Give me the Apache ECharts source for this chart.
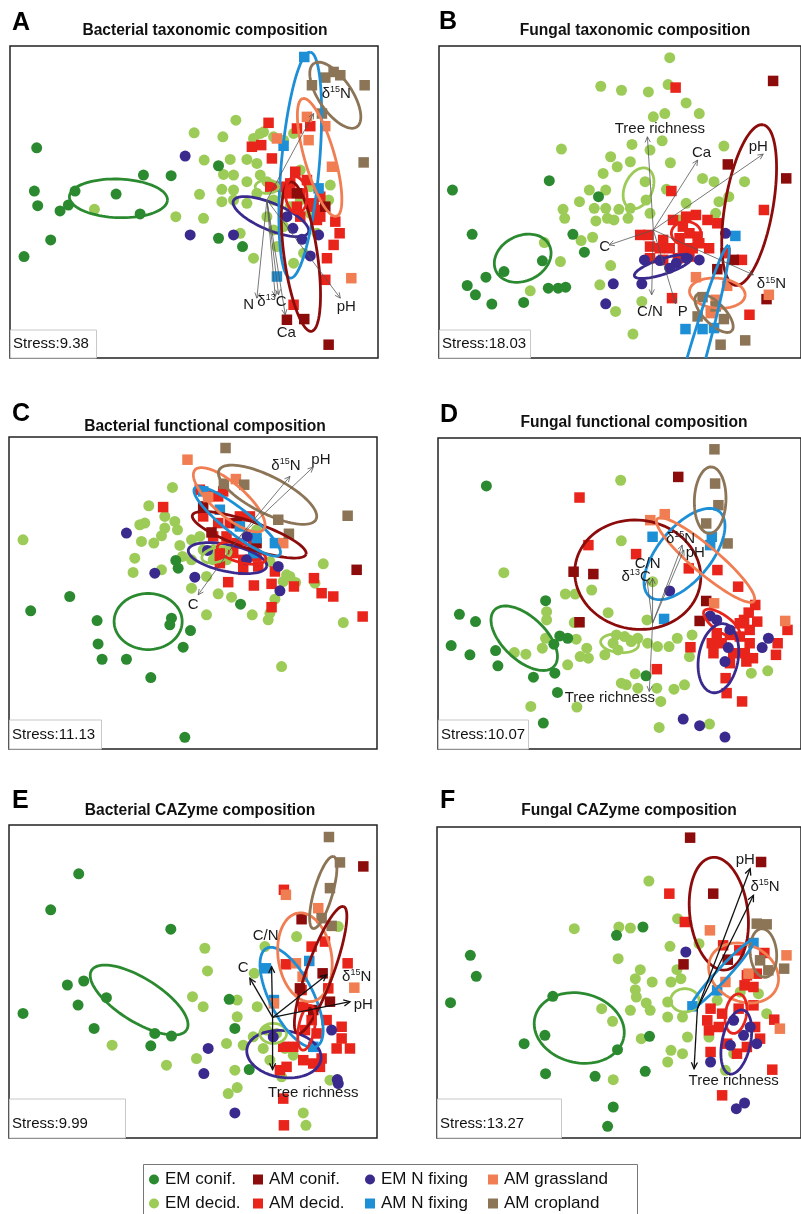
<!DOCTYPE html>
<html>
<head>
<meta charset="utf-8">
<script src="https://cdn.jsdelivr.net/npm/echarts@6/dist/echarts.min.js"></script>
<style>html,body{margin:0;padding:0;background:#fff;}#chart{width:801px;height:1214px;}</style>
</head>
<body>
<div id="chart"></div>
<script>
// ---------------- categories ----------------
const groupNames = ['EM conif.', 'EM decid.', 'AM conif.', 'AM decid.', 'EM N fixing', 'AM N fixing', 'AM grassland', 'AM cropland'];
const panelTitles = ['Bacterial taxonomic composition', 'Fungal taxonomic composition', 'Bacterial functional composition', 'Fungal functional composition', 'Bacterial CAZyme composition', 'Fungal CAZyme composition'];
const panelLetters = ['A', 'B', 'C', 'D', 'E', 'F'];
const stressValues = ['9.38', '18.03', '11.13', '10.07', '9.99', '13.27'];

// ---------------- Panel A ----------------
const aEmConif = [[8.0,63.2],[7.3,50.2],[8.3,45.8],[15.0,44.2],[17.5,46.0],[19.5,50.2],[12.2,35.5],[4.2,30.5],[31.8,49.3],[40.0,55.0],[48.3,54.8],[39.0,43.3],[62.5,57.8],[62.5,36.0],[69.7,33.5]];
const aEmDecid = [[25.3,44.7],[49.7,42.5],[56.8,49.2],[58.0,42.0],[55.2,67.7],[63.8,66.5],[67.7,71.5],[58.2,59.5],[66.0,59.7],[71.0,59.7],[74.0,58.5],[75.0,67.5],[73.0,66.0],[76.0,68.0],[79.0,66.5],[64.0,55.2],[67.0,55.0],[63.5,50.7],[67.0,50.5],[71.0,53.0],[75.0,55.0],[77.0,53.0],[63.5,47.0],[67.0,47.5],[71.0,46.5],[74.0,49.5],[79.0,47.5],[82.0,49.5],[77.0,42.5],[79.0,38.5],[82.0,39.5],[69.0,37.5],[73.0,30.0],[80.0,33.5],[84.0,45.5],[87.0,47.5],[90.0,51.5],[96.0,52.0],[95.5,47.5],[90.0,43.5],[92.0,37.5],[88.0,31.5],[85.0,28.5],[82.0,65.5],[85.0,67.5],[87.0,56.5]];
const aAmConif = [[86.0,49.5],[83.0,11.5],[88.2,11.7],[95.5,4.0],[94.5,45.5]];
const aAmDecid = [[77.5,70.7],[86.0,69.0],[90.0,69.7],[72.5,63.5],[75.3,64.0],[78.5,60.0],[85.5,56.0],[84.0,52.5],[89.0,53.5],[83.0,49.5],[87.0,49.5],[81.0,51.5],[78.0,51.5],[90.0,46.5],[93.0,48.5],[93.0,42.5],[97.5,41.0],[98.8,37.5],[97.0,34.0],[95.0,30.0],[94.5,23.5],[85.0,16.0],[86.0,45.5],[91.0,45.5],[92.0,41.5],[87.0,42.5],[92.5,44.5]];
const aEmNfix = [[52.5,60.7],[54.0,37.0],[67.0,37.0],[84.8,39.0],[87.5,35.7],[92.5,37.0],[90.0,30.7],[83.0,42.5]];
const aAmNfix = [[88.2,90.5],[82.0,63.8],[92.5,51.0],[80.0,24.5]];
const aAmGrass = [[89.0,72.5],[94.5,69.7],[89.5,65.5],[96.5,57.5],[102.3,24.0],[80.0,66.0]];
const aAmCrop = [[90.5,82.0],[94.5,84.3],[97.0,86.0],[99.0,85.0],[106.3,82.0],[106.0,58.8],[93.5,73.5]];
// [group, centre x, centre y, semi-major, semi-minor, angle deg]
const aEllipses = [['EM conif.',32.5,48.0,14.7,5.8,-2],['EM N fixing',78.2,42.5,12.2,4.0,-23],['AM N fixing',87.0,58.0,34.1,5.7,85],['AM grassland',92.8,60.3,18.4,4.5,106],['AM cropland',97.5,79.0,11.5,5.0,124],['AM conif.',87.2,30.5,22.7,5.0,98],['AM decid.',85.8,49.0,5.5,3.2,95],['EM decid.',77.0,51.5,3.5,2.0,0]];
const aOrigin = [77.0,47.5];
// [label, tip x, tip y, label x, label y]
const aArrows = [['N',74.0,18.0,71.5,16.0],['δ13C',79.5,18.5,78.5,17.0],['',80.5,19.0,78.5,17.0],['Ca',82.5,13.0,82.8,7.5],['pH',99.0,18.0,100.8,15.3],['δ15N',91.0,73.5,97.8,79.5]];

// ---------------- Panel B ----------------
const bEmConif = [[4.1,50.5],[33.6,53.3],[48.6,48.5],[10.1,37.2],[14.3,24.3],[8.6,21.8],[11.1,19.0],[16.1,16.2],[25.8,16.7],[19.8,26.0],[31.5,29.2],[40.8,37.2],[44.3,31.8],[33.3,21.0],[36.3,21.0],[38.6,21.3]];
const bEmDecid = [[70.3,90.3],[49.3,81.7],[55.6,80.5],[63.8,80.0],[69.8,82.2],[75.3,76.7],[79.3,73.5],[65.3,72.5],[68.8,73.5],[37.3,62.8],[58.8,64.2],[64.3,62.5],[68.0,65.3],[52.3,60.5],[54.3,57.5],[58.3,59.0],[70.5,58.7],[50.0,55.5],[62.8,53.0],[45.8,50.5],[50.8,50.5],[42.8,47.0],[37.8,44.7],[47.3,45.0],[50.8,45.0],[54.8,44.7],[38.3,42.0],[47.8,41.2],[51.3,42.0],[53.3,41.5],[57.6,42.0],[58.3,45.0],[63.1,47.5],[69.3,50.7],[80.3,54.0],[83.8,53.0],[88.3,48.5],[85.3,47.0],[84.3,43.5],[93.1,53.0],[86.8,63.7],[43.3,35.3],[46.8,36.3],[32.1,34.7],[37.0,29.0],[52.3,27.8],[27.8,20.2],[49.0,22.0],[53.8,14.0],[61.8,17.0],[59.1,7.2],[75.3,46.5],[73.3,41.5],[64.3,43.5]];
const bAmConif = [[101.8,83.3],[105.8,54.0],[88.0,58.2],[84.8,26.7],[89.8,29.5],[99.8,17.7]];
const bAmDecid = [[72.1,81.3],[70.8,50.2],[99.0,44.5],[61.3,37.0],[63.8,37.0],[71.3,41.5],[75.3,42.5],[78.3,43.0],[81.8,41.5],[84.8,40.5],[74.3,39.5],[76.3,37.5],[78.8,36.5],[73.3,36.0],[68.3,35.5],[64.3,33.5],[67.3,33.0],[70.3,33.0],[74.3,33.0],[77.3,33.0],[82.3,33.0],[64.3,30.0],[68.3,29.5],[72.8,30.0],[76.3,30.5],[92.3,29.5],[71.0,18.0],[94.6,13.0],[87.3,31.5],[79.3,34.5]];
const bEmNfix = [[62.6,29.5],[61.8,22.3],[53.1,22.3],[50.8,16.3],[67.3,29.3],[72.3,28.5],[75.3,30.0],[79.3,29.5],[87.3,37.5],[70.3,27.0]];
const bAmNfix = [[90.3,36.7],[75.1,8.7],[80.3,8.7],[83.8,9.0]];
const bAmGrass = [[78.3,24.3],[87.8,21.7],[100.5,19.0],[84.3,17.5],[82.8,13.5]];
const bAmCrop = [[80.3,18.3],[78.8,12.5],[84.3,15.5],[85.8,4.0],[93.3,5.3],[86.8,11.7]];
const bEllipses = [['EM conif.',25.5,30.0,9.0,6.8,25],['EM decid.',60.8,51.0,6.5,4.2,65],['EM N fixing',68.3,27.5,9.2,2.3,18],['AM decid.',75.3,37.5,4.5,3.5,0],['AM conif.',94.5,46.0,24.5,7.3,80],['AM grassland',84.8,19.5,8.5,4.5,-5],['AM cropland',83.8,13.5,7.6,3.2,-45],['AM N fixing',76.3,-7.5,43.0,2.8,74]];
const bOrigin = [65.3,38.5];
const bArrows = [['Tree richness',63.5,66.5,67.3,69.0],['Ca',78.8,59.5,80.0,61.7],['pH',98.8,61.3,97.3,63.5],['C',51.8,34.0,50.5,33.3],['C/N',64.8,19.0,64.3,14.0],['P',72.1,16.3,74.3,14.0],['δ15N',95.8,25.0,101.3,22.2]];

// ---------------- Panel C ----------------
const cEmConif = [[6.5,41.4],[18.2,45.7],[26.4,38.5],[26.7,31.5],[27.9,26.9],[35.2,26.9],[42.5,21.4],[48.7,39.2],[48.2,37.2],[54.4,35.5],[52.2,30.5],[50.0,56.5],[50.7,54.2],[69.4,43.4],[52.7,3.5]];
const cEmDecid = [[4.2,62.7],[49.0,78.4],[41.9,72.9],[46.7,69.7],[39.2,67.2],[40.7,67.7],[46.7,66.2],[49.7,68.2],[50.5,65.7],[39.7,62.2],[43.4,61.7],[45.7,63.9],[51.2,61.0],[37.7,57.2],[52.0,57.7],[37.2,52.9],[45.7,53.7],[54.7,62.7],[57.2,63.7],[58.2,59.7],[54.7,48.2],[59.2,51.7],[62.7,46.5],[66.7,45.5],[59.2,40.2],[72.9,40.2],[77.7,38.7],[78.2,40.7],[79.7,44.9],[83.2,52.2],[84.2,51.7],[82.2,50.2],[85.9,49.9],[94.2,55.5],[91.7,49.7],[100.2,37.9],[81.7,24.7],[61.2,56.7],[65.2,56.7],[66.2,59.7],[74.2,65.7],[78.2,56.2],[61.2,59.7],[54.7,56.7]];
const cAmConif = [[104.2,53.7],[60.7,64.9],[68.2,67.7],[58.2,72.7],[74.2,61.7]];
const cAmDecid = [[46.2,72.5],[57.2,77.7],[59.7,75.9],[62.7,75.7],[64.2,77.2],[58.2,69.7],[62.7,67.7],[66.2,67.7],[69.2,69.7],[72.2,69.7],[61.2,63.7],[65.2,63.7],[68.2,61.7],[73.2,61.2],[63.2,58.7],[67.2,58.7],[70.2,56.7],[74.2,57.7],[63.2,55.7],[70.2,53.7],[74.7,54.7],[79.7,53.2],[65.7,50.0],[73.4,49.0],[78.7,49.5],[85.4,48.7],[91.4,51.2],[93.7,46.7],[97.2,45.7],[78.7,42.5],[106.0,39.7]];
const cEmNfix = [[35.2,64.7],[43.7,52.7],[55.7,51.5],[59.5,59.5],[71.4,63.7],[81.2,47.4],[80.7,54.7],[71.2,56.7]];
const cAmNfix = [[58.2,77.2],[63.2,71.7],[69.2,66.7],[74.2,63.2],[79.7,61.7],[73.2,58.7]];
const cAmGrass = [[53.5,86.7],[68.0,80.9],[59.7,75.5],[82.2,61.7]];
const cAmCrop = [[64.9,90.2],[64.4,79.5],[70.5,79.2],[80.7,68.7],[83.9,64.5],[101.5,69.9]];
const cEllipses = [['EM conif.',41.7,38.2,10.2,8.4,0],['EM N fixing',65.5,57.2,12.0,4.0,-12],['EM decid.',62.2,58.2,4.5,2.2,15],['AM decid.',69.7,58.7,7.5,2.8,-15],['AM conif.',72.0,64.2,18.0,4.0,-19],['AM N fixing',68.4,68.2,16.2,3.8,-38],['AM grassland',66.0,74.7,13.6,4.8,-41],['AM cropland',77.5,76.2,16.3,5.5,-27]];
const cOrigin = [69.2,63.7];
const cArrows = [['δ15N',84.2,81.7,83.0,84.9],['pH',91.2,84.5,93.5,86.7],['C',56.7,46.2,55.2,43.2]];

// ---------------- Panel D ----------------
const dEmConif = [[14.7,79.1],[6.5,40.5],[11.4,38.3],[4.0,31.1],[9.7,28.3],[17.5,29.6],[18.2,25.0],[29.0,21.6],[32.7,44.6],[35.2,31.5],[37.0,34.0],[39.4,33.3],[35.5,22.8],[36.3,17.0],[32.0,7.8],[63.2,22.0]];
const dEmDecid = [[55.5,80.8],[20.0,53.0],[55.7,62.6],[38.7,46.6],[41.7,46.6],[46.7,47.8],[33.0,41.3],[33.0,38.8],[32.7,33.3],[23.2,29.0],[26.7,28.5],[31.7,30.3],[41.4,38.0],[42.0,33.0],[45.2,30.3],[43.2,27.8],[45.7,27.3],[39.4,25.3],[50.7,28.3],[51.7,41.0],[54.2,34.3],[56.7,33.8],[58.7,32.3],[60.7,33.3],[54.7,29.8],[63.5,38.8],[63.7,31.8],[66.7,30.8],[70.2,30.8],[72.7,33.3],[59.9,22.6],[55.7,19.8],[57.2,19.3],[60.7,18.3],[66.5,18.3],[71.7,18.0],[74.9,19.3],[67.7,14.3],[28.2,12.8],[42.2,12.6],[67.2,6.5],[82.5,7.5],[76.4,27.8],[77.2,34.3],[95.2,22.8],[100.2,23.5],[65.2,50.3],[53.2,31.8]];
const dAmConif = [[73.0,81.8],[41.2,53.3],[47.2,52.6],[43.0,38.1],[81.5,44.5],[79.5,38.5]];
const dAmDecid = [[43.0,75.6],[45.7,61.3],[60.2,58.6],[76.2,54.3],[84.9,53.8],[91.2,48.8],[96.4,43.3],[94.4,41.0],[97.0,38.3],[93.0,38.8],[94.7,35.8],[84.7,34.8],[88.7,34.3],[91.7,33.8],[83.2,31.8],[86.2,31.8],[94.7,31.8],[103.2,31.8],[106.2,35.8],[83.7,28.8],[89.7,28.8],[93.2,28.8],[95.7,27.3],[102.7,28.3],[88.7,25.8],[93.7,26.3],[87.4,21.3],[87.7,16.8],[92.4,14.3],[76.7,30.6],[66.5,24.0],[91.7,37.8]];
const dEmNfix = [[70.4,47.5],[74.5,9.0],[79.5,7.0],[87.2,3.6],[82.7,40.0],[84.7,38.8],[88.2,30.5],[87.2,26.3],[100.4,33.3],[98.5,30.5],[88.7,35.8]];
const dAmNfix = [[65.2,63.8],[82.7,61.3],[68.7,39.1],[83.2,63.8]];
const dAmGrass = [[64.5,68.8],[68.9,70.6],[83.9,43.8],[105.5,38.5]];
const dAmCrop = [[84.0,90.1],[84.2,79.8],[85.2,73.3],[81.5,67.8],[88.0,61.8]];
const dEllipses = [['EM conif.',26.2,33.3,12.4,6.5,-43],['EM decid.',55.2,31.8,5.8,2.8,-5],['AM conif.',60.7,52.4,19.2,16.4,-8],['AM N fixing',74.9,58.6,16.6,8.0,50],['AM grassland',81.3,56.8,19.2,4.0,-40],['AM cropland',82.7,74.8,10.0,4.8,88],['AM decid.',86.2,37.8,6.5,2.5,-35],['EM N fixing',85.2,27.3,10.5,6.0,80]];
const dOrigin = [65.2,37.8];
const dArrows = [['Tree richness',64.2,17.3,52.2,15.3],['C/N',65.2,51.3,63.7,55.8],['δ13C',63.5,50.8,60.2,51.8],['δ15N',74.2,61.3,73.7,63.3],['pH',74.7,59.8,78.2,59.0]];

// ---------------- Panel E ----------------
const eEmConif = [[20.9,79.1],[12.5,68.3],[48.5,62.5],[17.5,45.8],[22.4,47.0],[29.2,42.0],[20.7,39.8],[4.2,37.3],[25.5,32.8],[43.7,31.3],[48.7,30.5],[42.5,27.6],[66.0,41.5],[67.7,32.8],[72.0,20.5]];
const eEmDecid = [[58.7,56.8],[59.5,50.0],[55.0,42.3],[58.2,39.3],[30.9,27.8],[47.2,21.8],[56.2,23.8],[65.2,28.3],[67.7,20.3],[68.4,15.1],[65.7,13.3],[68.4,41.3],[68.4,36.3],[74.4,39.3],[73.5,49.3],[70.2,27.8],[73.2,30.3],[76.2,26.8],[77.2,32.3],[80.2,31.3],[78.2,23.3],[81.7,18.3],[85.2,24.8],[86.2,60.3],[98.7,63.3],[96.2,17.3],[88.2,7.5],[89.0,3.8],[76.7,57.3],[82.7,26.8]];
const eAmConif = [[106.2,81.3],[87.7,65.5],[94.0,49.3],[96.2,40.8],[87.2,44.8],[91.2,38.3]];
const eAmDecid = [[82.4,74.3],[90.7,57.3],[94.7,58.8],[83.0,52.0],[101.5,52.3],[87.7,44.3],[95.7,44.8],[88.2,39.3],[90.7,35.3],[95.2,35.3],[88.7,32.3],[99.7,29.8],[98.2,26.8],[102.2,26.8],[82.2,27.3],[85.2,27.3],[88.2,23.3],[91.2,22.3],[83.2,21.3],[93.2,21.3],[93.7,23.8],[82.2,11.8],[82.4,3.8],[99.7,33.3],[92.2,31.3],[81.2,20.3]];
const eEmNfix = [[59.7,26.8],[58.4,19.3],[67.7,7.5],[98.4,17.5],[98.7,16.3],[96.7,32.3],[79.2,30.3]];
const eAmNfix = [[90.0,53.0],[77.0,50.8],[79.4,41.3],[91.2,27.3]];
const eAmGrass = [[83.0,72.8],[92.7,68.8],[86.0,52.3],[88.0,48.3],[103.5,45.0],[79.4,40.3]];
const eAmCrop = [[95.9,90.1],[99.2,82.5],[96.2,74.8],[93.7,65.8],[96.7,63.5]];
const eEllipses = [['EM conif.',39.0,41.3,16.8,6.5,-32],['EM N fixing',82.4,25.1,11.2,7.0,-8],['EM decid.',79.2,31.3,4.0,3.0,0],['AM N fixing',84.7,42.1,16.5,6.5,117],['AM grassland',88.7,54.1,13.4,8.0,99],['AM conif.',93.4,50.3,20.2,4.0,70],['AM cropland',94.2,73.5,11.2,2.8,74],['AM decid.',89.2,33.0,6.8,2.4,80]];
const eOrigin = [79.0,36.1];
const eArrows = [['C/N',78.7,51.3,76.9,60.5],['C',72.2,47.8,70.2,50.8],['δ15N',95.2,48.8,104.2,48.3],['pH',102.2,40.8,106.2,39.8],['Tree richness',79.0,20.5,91.2,13.5]];

// ---------------- Panel F ----------------
const fEmConif = [[10.1,54.8],[11.9,48.5],[4.1,40.6],[35.1,42.5],[32.7,30.8],[26.4,28.3],[32.9,19.3],[47.9,18.5],[54.7,26.5],[53.4,9.3],[51.7,3.5],[54.4,60.8],[62.4,63.3],[64.4,30.5],[63.1,20.0]];
const fEmDecid = [[41.6,62.8],[55.1,63.3],[58.6,63.0],[64.2,77.1],[54.9,53.8],[49.9,38.8],[53.2,35.0],[53.4,17.5],[61.6,50.5],[60.1,47.8],[65.2,46.8],[60.1,44.5],[60.4,42.3],[63.4,40.5],[64.6,38.3],[58.6,38.3],[61.9,29.8],[70.9,46.8],[72.7,50.5],[73.9,47.8],[70.6,57.5],[72.9,65.8],[79.4,58.3],[69.9,40.8],[69.9,36.3],[74.4,36.3],[75.9,30.3],[70.9,26.3],[69.9,22.8],[74.4,25.3],[82.4,30.3],[87.4,20.3],[89.9,25.3],[91.9,43.8],[97.4,43.3],[99.9,37.3],[84.9,41.3]];
const fAmConif = [[76.7,90.1],[98.2,82.8],[83.7,73.3],[74.7,52.1],[88.1,53.5]];
const fAmDecid = [[70.4,73.3],[75.1,64.8],[86.7,57.8],[91.6,56.3],[99.2,55.5],[93.2,45.8],[95.9,45.3],[96.9,49.3],[95.9,39.8],[82.9,38.8],[86.4,37.3],[81.9,35.3],[85.4,33.3],[91.4,38.8],[96.4,33.3],[102.2,35.5],[82.9,25.8],[87.9,28.3],[90.9,25.3],[93.9,27.3],[97.9,29.8],[101.6,20.5],[86.4,12.8],[93.9,48.8],[82.4,32.3]];
const fEmNfix = [[75.4,55.8],[82.9,22.8],[90.7,8.8],[93.2,10.5],[89.9,35.3],[94.9,33.3],[92.9,30.8],[96.9,28.3],[88.9,27.8]];
const fAmNfix = [[95.9,58.5],[77.4,39.5],[84.9,44.3]];
const fAmGrass = [[82.7,62.3],[105.9,54.8],[94.4,49.3],[103.9,32.8],[87.4,46.8]];
const fAmCrop = [[96.9,64.3],[99.9,64.1],[97.9,53.3],[105.2,50.8],[100.4,50.3]];
const fEllipses = [['EM conif.',43.1,33.0,13.8,10.4,-13],['EM decid.',75.1,41.3,4.3,3.5,0],['AM conif.',85.4,67.3,17.0,8.8,97],['AM grassland',92.9,49.5,11.0,8.5,-25],['AM cropland',98.9,55.5,7.3,4.0,95],['AM N fixing',86.4,49.1,14.0,1.8,47],['AM decid.',90.6,37.3,6.0,3.2,80],['EM N fixing',90.7,28.8,9.8,4.3,78]];
const fOrigin = [78.9,38.8];
const fArrows = [['pH',94.9,80.8,93.4,83.5],['δ15N',95.9,72.8,99.4,75.3],['Tree richness',77.9,20.8,89.9,17.1]];

// ---------------- assembly ----------------
const PANELS = [
  {groups:[aEmConif,aEmDecid,aAmConif,aAmDecid,aEmNfix,aAmNfix,aAmGrass,aAmCrop], ellipses:aEllipses, origin:aOrigin, arrows:aArrows},
  {groups:[bEmConif,bEmDecid,bAmConif,bAmDecid,bEmNfix,bAmNfix,bAmGrass,bAmCrop], ellipses:bEllipses, origin:bOrigin, arrows:bArrows},
  {groups:[cEmConif,cEmDecid,cAmConif,cAmDecid,cEmNfix,cAmNfix,cAmGrass,cAmCrop], ellipses:cEllipses, origin:cOrigin, arrows:cArrows},
  {groups:[dEmConif,dEmDecid,dAmConif,dAmDecid,dEmNfix,dAmNfix,dAmGrass,dAmCrop], ellipses:dEllipses, origin:dOrigin, arrows:dArrows},
  {groups:[eEmConif,eEmDecid,eAmConif,eAmDecid,eEmNfix,eAmNfix,eAmGrass,eAmCrop], ellipses:eEllipses, origin:eOrigin, arrows:eArrows},
  {groups:[fEmConif,fEmDecid,fAmConif,fAmDecid,fEmNfix,fAmNfix,fAmGrass,fAmCrop], ellipses:fEllipses, origin:fOrigin, arrows:fArrows}
];

// ---------------- styling / layout ----------------
const FONT = '"Liberation Sans", Arial, Helvetica, sans-serif';
const COLORS = ['#2b8a2f', '#9dcb58', '#8c0b0b', '#e8241b', '#3b2a8e', '#1d8fd6', '#f07e52', '#8c7457'];
const SYMBOLS = ['circle', 'circle', 'rect', 'rect', 'circle', 'rect', 'rect', 'rect'];
const DRAW_ORDER = [1, 0, 3, 2, 5, 6, 7, 4];
const LAYOUT = [
  {left:10,  top:46,  width:368, height:312, yMax:93.8, letterX:12,  letterY:23.5, titleX:205, titleY:31,  sw:86,  sh:28},
  {left:439, top:46,  width:368, height:312, yMax:93.8, letterX:439, letterY:22.5, titleX:635, titleY:31,  sw:91,  sh:28},
  {left:9,   top:437, width:368, height:312, yMax:93.5, letterX:12,  letterY:414,  titleX:205, titleY:427, sw:92,  sh:29},
  {left:438, top:438, width:368, height:311, yMax:93.5, letterX:440, letterY:415,  titleX:634, titleY:423, sw:90,  sh:29},
  {left:9,   top:825, width:368, height:313, yMax:93.7, letterX:12,  letterY:801,  titleX:200, titleY:811, sw:116, sh:39},
  {left:437, top:827, width:368, height:311, yMax:93.3, letterX:440, letterY:801,  titleX:629, titleY:811, sw:124, sh:39}
];
const ARROW_STYLE = [
  {color:'#555', width:0.8, head:6}, {color:'#555', width:0.8, head:6},
  {color:'#555', width:0.8, head:6}, {color:'#555', width:0.8, head:6},
  {color:'#111', width:1.3, head:7}, {color:'#111', width:1.3, head:7}
];

function richLabel(t) {
  if (t === 'δ15N') return '{n|δ}{s|15}{n|N}';
  if (t === 'δ13C') return '{n|δ}{s|13}{n|C}';
  return '{n|' + t + '}';
}

function ellipseRender(params, api) {
  const cx = api.value(0), cy = api.value(1), a = api.value(2), b = api.value(3);
  const ang = api.value(4) * Math.PI / 180, g = api.value(5);
  const pts = [];
  for (let i = 0; i <= 90; i++) {
    const t = i / 90 * 2 * Math.PI;
    const x = a * Math.cos(t), y = b * Math.sin(t);
    pts.push(api.coord([cx + x * Math.cos(ang) - y * Math.sin(ang), cy + x * Math.sin(ang) + y * Math.cos(ang)]));
  }
  const cs = params.coordSys;
  return {
    type: 'polyline', shape: {points: pts},
    style: {fill: 'none', stroke: COLORS[g], lineWidth: 2.8},
    clipPath: {type: 'rect', shape: {x: cs.x, y: cs.y, width: cs.width, height: cs.height}}
  };
}

function makeArrowRender(st) {
  return function (params, api) {
    const p0 = api.coord([api.value(0), api.value(1)]);
    const p1 = api.coord([api.value(2), api.value(3)]);
    const ang = Math.atan2(p1[1] - p0[1], p1[0] - p0[0]);
    const s = Math.PI / 7, h = st.head;
    const l1 = [p1[0] - h * Math.cos(ang - s), p1[1] - h * Math.sin(ang - s)];
    const l2 = [p1[0] - h * Math.cos(ang + s), p1[1] - h * Math.sin(ang + s)];
    return {type: 'group', children: [
      {type: 'line', shape: {x1: p0[0], y1: p0[1], x2: p1[0], y2: p1[1]}, style: {stroke: st.color, lineWidth: st.width}},
      {type: 'polyline', shape: {points: [l1, p1, l2]}, style: {stroke: st.color, lineWidth: st.width, fill: 'none'}}
    ]};
  };
}

function makeLabelRender(texts) {
  return function (params, api) {
    const p = api.coord([api.value(0), api.value(1)]);
    return {type: 'text', x: p[0], y: p[1], style: {
      text: richLabel(texts[params.dataIndex]), align: 'center', verticalAlign: 'middle',
      rich: {n: {fontSize: 15, fontFamily: FONT, fill: '#1a1a1a', lineHeight: 17},
             s: {fontSize: 9, fontFamily: FONT, fill: '#1a1a1a', verticalAlign: 'top', lineHeight: 10}}
    }};
  };
}

const grids = [], xAxes = [], yAxes = [], series = [], graphics = [];
PANELS.forEach((p, i) => {
  const L = LAYOUT[i];
  grids.push({left: L.left, top: L.top, width: L.width, height: L.height, show: true, borderColor: '#222', borderWidth: 1.5, backgroundColor: 'transparent'});
  xAxes.push({type: 'value', gridIndex: i, min: 0, max: 110.3, show: false});
  yAxes.push({type: 'value', gridIndex: i, min: 0, max: L.yMax, show: false});
  DRAW_ORDER.forEach(g => {
    series.push({
      type: 'scatter', name: groupNames[g], xAxisIndex: i, yAxisIndex: i,
      symbol: SYMBOLS[g], symbolSize: SYMBOLS[g] === 'circle' ? 11 : 10.5,
      itemStyle: {color: COLORS[g], opacity: 1}, data: p.groups[g], z: 2, silent: true
    });
  });
  series.push({
    type: 'custom', name: 'ellipses' + i, xAxisIndex: i, yAxisIndex: i, z: 3, silent: true,
    renderItem: ellipseRender, encode: {x: 0, y: 1},
    data: p.ellipses.map(e => [e[1], e[2], e[3], e[4], e[5], groupNames.indexOf(e[0])])
  });
  series.push({
    type: 'custom', name: 'arrows' + i, xAxisIndex: i, yAxisIndex: i, z: 4, silent: true,
    renderItem: makeArrowRender(ARROW_STYLE[i]), encode: {x: 2, y: 3},
    data: p.arrows.map(a => [p.origin[0], p.origin[1], a[1], a[2]])
  });
  const labelled = p.arrows.filter(a => a[0] !== '');
  series.push({
    type: 'custom', name: 'labels' + i, xAxisIndex: i, yAxisIndex: i, z: 5, silent: true,
    renderItem: makeLabelRender(labelled.map(a => a[0])), encode: {x: 0, y: 1},
    data: labelled.map(a => [a[3], a[4]])
  });
  // panel letter and title
  graphics.push({type: 'text', x: L.letterX, y: L.letterY, z: 100,
    style: {text: panelLetters[i], font: 'bold 25px ' + FONT, fill: '#000', verticalAlign: 'middle'}});
  graphics.push({type: 'text', x: L.titleX, y: L.titleY, z: 100,
    style: {text: panelTitles[i], font: 'bold 15.6px ' + FONT, fill: '#111', align: 'center', verticalAlign: 'middle'}});
  // stress box
  const bx = L.left, by = L.top + L.height - L.sh;
  graphics.push({type: 'rect', z: 100, shape: {x: bx + 0.5, y: by, width: L.sw, height: L.sh},
    style: {fill: '#fff', stroke: '#c8c8c8', lineWidth: 1}});
  graphics.push({type: 'text', z: 101, x: bx + 3, y: L.top + L.height - 14.5,
    style: {text: 'Stress:' + stressValues[i], font: '15px ' + FONT, fill: '#111', verticalAlign: 'middle'}});
});

// legend frame
graphics.push({type: 'rect', z: 100, shape: {x: 143.5, y: 1164.5, width: 494, height: 60},
  style: {fill: 'none', stroke: '#777', lineWidth: 1}});

const LEGEND_POS = [
  [149, 1171], [149, 1195], [253, 1171], [253, 1195], [365, 1171], [365, 1195], [488, 1171], [488, 1195]
];
const legends = groupNames.map((n, g) => ({
  data: [{name: n, icon: SYMBOLS[g]}], left: LEGEND_POS[g][0], top: LEGEND_POS[g][1],
  orient: 'horizontal', padding: 0, itemWidth: 10, itemHeight: 10, itemGap: 0, selectedMode: false,
  textStyle: {fontSize: 17, fontFamily: FONT, color: '#111', padding: [0, 0, 0, 1]}
}));

const chart = echarts.init(document.getElementById('chart'), null, {renderer: 'canvas'});
chart.setOption({
  animation: false,
  backgroundColor: '#fff',
  grid: grids, xAxis: xAxes, yAxis: yAxes,
  legend: legends,
  series: series,
  graphic: {elements: graphics}
});
</script>
</body>
</html>
